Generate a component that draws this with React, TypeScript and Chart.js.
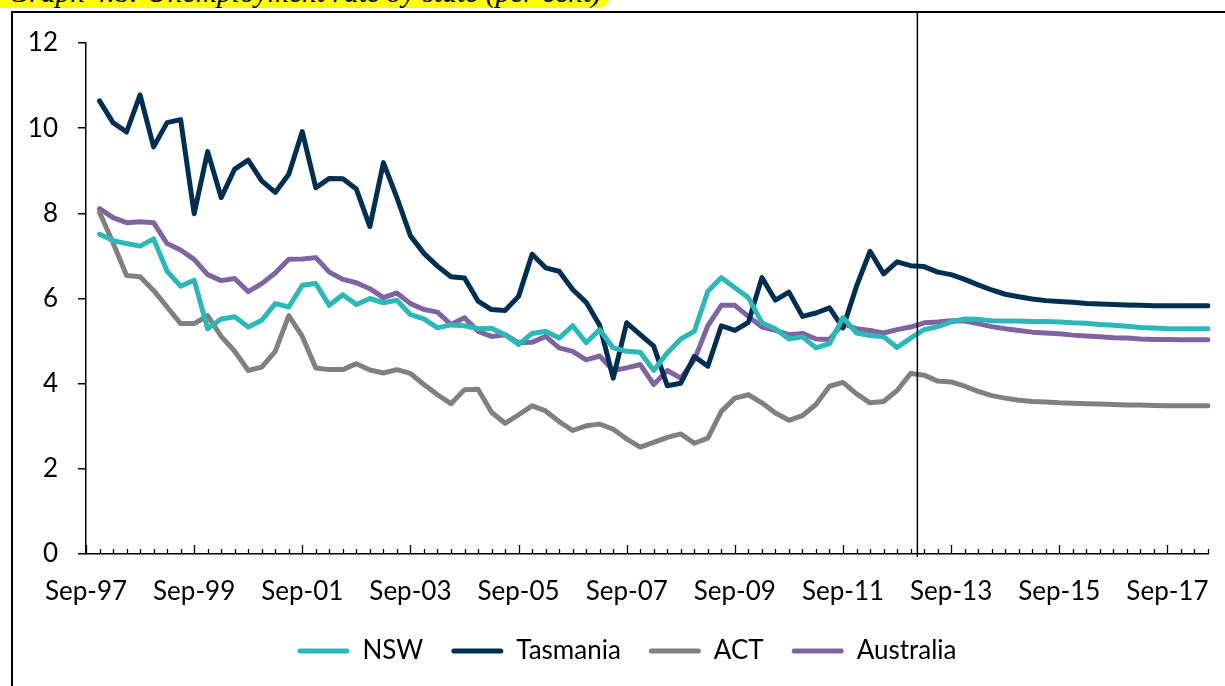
import React, { useEffect, useRef } from "react";
import { Chart, registerables } from "chart.js";

Chart.register(...registerables);

const CATEGORIES = [
  "Sep-97", "Dec-97", "Mar-98", "Jun-98", "Sep-98", "Dec-98", "Mar-99", "Jun-99",
  "Sep-99", "Dec-99", "Mar-00", "Jun-00", "Sep-00", "Dec-00", "Mar-01", "Jun-01",
  "Sep-01", "Dec-01", "Mar-02", "Jun-02", "Sep-02", "Dec-02", "Mar-03", "Jun-03",
  "Sep-03", "Dec-03", "Mar-04", "Jun-04", "Sep-04", "Dec-04", "Mar-05", "Jun-05",
  "Sep-05", "Dec-05", "Mar-06", "Jun-06", "Sep-06", "Dec-06", "Mar-07", "Jun-07",
  "Sep-07", "Dec-07", "Mar-08", "Jun-08", "Sep-08", "Dec-08", "Mar-09", "Jun-09",
  "Sep-09", "Dec-09", "Mar-10", "Jun-10", "Sep-10", "Dec-10", "Mar-11", "Jun-11",
  "Sep-11", "Dec-11", "Mar-12", "Jun-12", "Sep-12", "Dec-12", "Mar-13", "Jun-13",
  "Sep-13", "Dec-13", "Mar-14", "Jun-14", "Sep-14", "Dec-14", "Mar-15", "Jun-15",
  "Sep-15", "Dec-15", "Mar-16", "Jun-16", "Sep-16", "Dec-16", "Mar-17", "Jun-17",
  "Sep-17", "Dec-17", "Mar-18", "Jun-18",
];

const TICK_LABELS = [
  "Sep-97", "Sep-99", "Sep-01", "Sep-03", "Sep-05", "Sep-07",
  "Sep-09", "Sep-11", "Sep-13", "Sep-15", "Sep-17",
];

const Y_TICKS = [0, 2, 4, 6, 8, 10, 12];

// position (in category units) of the vertical forecast divider
const FORECAST_DIVIDER = 61.5;

const NSW = [
  null,
  7.51, 7.36, 7.29, 7.23, 7.4, 6.64, 6.29, 6.43, 5.29, 5.52,
  5.57, 5.33, 5.49, 5.88, 5.8, 6.31, 6.35, 5.84, 6.09, 5.86,
  6.0, 5.9, 5.96, 5.62, 5.52, 5.31, 5.38, 5.36, 5.29, 5.3,
  5.15, 4.92, 5.18, 5.23, 5.07, 5.36, 4.96, 5.27, 4.84, 4.76,
  4.74, 4.31, 4.72, 5.05, 5.23, 6.17, 6.49, 6.25, 6.02, 5.43,
  5.29, 5.05, 5.1, 4.84, 4.94, 5.55, 5.19, 5.13, 5.1, 4.85,
  5.07, 5.27, 5.34, 5.45, 5.52, 5.51, 5.48, 5.47, 5.47, 5.46,
  5.46, 5.45, 5.43, 5.42, 5.39, 5.37, 5.35, 5.32, 5.31, 5.29,
  5.29, 5.29, 5.29,
];

const TASMANIA = [
  null,
  10.64, 10.13, 9.91, 10.78, 9.56, 10.13, 10.2, 7.99, 9.45, 8.37,
  9.04, 9.25, 8.76, 8.49, 8.92, 9.92, 8.6, 8.82, 8.81, 8.57,
  7.69, 9.19, 8.37, 7.47, 7.06, 6.76, 6.51, 6.48, 5.94, 5.74,
  5.72, 6.05, 7.04, 6.72, 6.64, 6.21, 5.91, 5.37, 4.13, 5.43,
  5.15, 4.88, 3.95, 4.01, 4.64, 4.41, 5.36, 5.25, 5.44, 6.49,
  5.96, 6.15, 5.58, 5.66, 5.78, 5.31, 6.29, 7.11, 6.58, 6.86,
  6.77, 6.75, 6.62, 6.56, 6.45, 6.32, 6.2, 6.1, 6.04, 5.99,
  5.95, 5.93, 5.91, 5.88, 5.87, 5.86, 5.85, 5.84, 5.83, 5.83,
  5.83, 5.83, 5.83,
];

const ACT = [
  null,
  8.02, 7.31, 6.54, 6.51, 6.19, 5.8, 5.41, 5.41, 5.6, 5.11,
  4.76, 4.31, 4.39, 4.76, 5.6, 5.11, 4.37, 4.33, 4.33, 4.47,
  4.32, 4.25, 4.33, 4.24, 3.98, 3.74, 3.53, 3.86, 3.87, 3.33,
  3.07, 3.27, 3.48, 3.36, 3.11, 2.9, 3.01, 3.05, 2.93, 2.7,
  2.51, 2.62, 2.74, 2.82, 2.6, 2.72, 3.35, 3.66, 3.74, 3.55,
  3.31, 3.14, 3.25, 3.51, 3.94, 4.03, 3.76, 3.55, 3.58, 3.84,
  4.24, 4.2, 4.06, 4.04, 3.94, 3.82, 3.72, 3.66, 3.61, 3.58,
  3.57, 3.55, 3.54, 3.53, 3.52, 3.51, 3.5, 3.5, 3.49, 3.48,
  3.48, 3.48, 3.48,
];

const AUSTRALIA = [
  null,
  8.11, 7.9, 7.78, 7.8, 7.78, 7.29, 7.14, 6.92, 6.56, 6.42,
  6.47, 6.16, 6.35, 6.6, 6.92, 6.93, 6.96, 6.62, 6.45, 6.37,
  6.23, 6.02, 6.13, 5.88, 5.74, 5.68, 5.39, 5.55, 5.23, 5.11,
  5.15, 4.96, 4.97, 5.11, 4.84, 4.76, 4.56, 4.65, 4.31, 4.37,
  4.45, 3.98, 4.31, 4.13, 4.56, 5.36, 5.84, 5.84, 5.58, 5.33,
  5.25, 5.15, 5.18, 5.05, 5.04, 5.41, 5.29, 5.25, 5.19, 5.27,
  5.33, 5.43, 5.45, 5.48, 5.47, 5.41, 5.34, 5.29, 5.25, 5.21,
  5.19, 5.17, 5.14, 5.12, 5.1, 5.08, 5.07, 5.05, 5.04, 5.04,
  5.03, 5.03, 5.03,
];

const SERIES = [
  { label: "NSW", data: NSW, color: "#2CB8B8" },
  { label: "Tasmania", data: TASMANIA, color: "#002F52" },
  { label: "ACT", data: ACT, color: "#808080" },
  { label: "Australia", data: AUSTRALIA, color: "#8064A2" },
];

const FONT = { family: "Lato, 'Noto Sans', sans-serif", size: 26 };
const LEGEND_SHIFT = 23;

const decorPlugin = {
  id: "decor",
  afterLayout(chart: any) {
    const lg = chart.legend;
    if (lg) {
      lg.left += LEGEND_SHIFT;
      lg.right += LEGEND_SHIFT;
    }
  },
  afterDraw(chart: any) {
    const xs = chart.scales.x;
    const { ctx, chartArea } = chart;
    ctx.save();
    ctx.strokeStyle = "#000";
    ctx.lineWidth = 1.3;
    CATEGORIES.forEach((c, i) => {
      const x = Math.round(xs.getPixelForValue(i)) + 0.5;
      const len = TICK_LABELS.includes(c) ? 9 : 5;
      ctx.beginPath();
      ctx.moveTo(x, chartArea.bottom);
      ctx.lineTo(x, chartArea.bottom - len);
      ctx.stroke();
    });
    // forecast divider
    const dx = xs.getPixelForValue(FORECAST_DIVIDER);
    ctx.lineWidth = 1.5;
    ctx.beginPath();
    ctx.moveTo(dx, 12);
    ctx.lineTo(dx, chartArea.bottom + 3);
    ctx.stroke();
    ctx.restore();
  },
};

export default function App() {
  const ref = useRef<HTMLCanvasElement | null>(null);

  useEffect(() => {
    if (!ref.current) return;
    const chart = new Chart(ref.current, {
      type: "line",
      data: {
        labels: CATEGORIES,
        datasets: SERIES.map((s) => ({
          label: s.label,
          data: s.data,
          borderColor: s.color,
          backgroundColor: s.color,
          borderWidth: 5,
          pointRadius: 0,
          tension: 0,
          borderJoinStyle: "round",
          borderCapStyle: "round",
          fill: false,
        })),
      },
      options: {
        responsive: false,
        animation: false,
        devicePixelRatio: 1,
        layout: { padding: { left: 0, right: 17, top: 43, bottom: 12 } },
        plugins: {
          tooltip: { enabled: false },
          title: { display: false },
          legend: {
            display: true,
            position: "bottom",
            labels: {
              boxWidth: 52,
              boxHeight: 5,
              padding: 28,
              color: "#000",
              font: FONT,
              useBorderRadius: true,
              borderRadius: 2.5,
              generateLabels: () =>
                SERIES.map((s, i) => ({
                  text: s.label,
                  fillStyle: s.color,
                  strokeStyle: s.color,
                  lineWidth: 0,
                  hidden: false,
                  datasetIndex: i,
                  borderRadius: 2.5,
                })),
            },
          },
        },
        scales: {
          x: {
            type: "category",
            offset: false,
            // grid hidden (ticks drawn by plugin); tickLength only offsets labels
            grid: { display: false, drawTicks: true, tickLength: 22 },
            border: { display: true, color: "#000", width: 1.5 },
            ticks: {
              autoSkip: false,
              maxRotation: 0,
              minRotation: 0,
              padding: 0,
              color: "#000",
              font: FONT,
              callback: (_v: any, i: number) =>
                TICK_LABELS.includes(CATEGORIES[i]) ? CATEGORIES[i] : "",
            },
            afterFit: (s: any) => {
              s.height = 56;
            },
          },
          y: {
            min: Y_TICKS[0],
            max: Y_TICKS[Y_TICKS.length - 1],
            grid: {
              drawOnChartArea: false,
              drawTicks: true,
              tickLength: 8,
              color: "#000",
              lineWidth: 1.5,
            },
            border: { display: true, color: "#000", width: 1.5 },
            ticks: {
              stepSize: 2,
              padding: 20,
              color: "#000",
              font: FONT,
            },
            afterFit: (s: any) => {
              s.width = 86;
            },
          },
        },
      },
      plugins: [decorPlugin],
    });
    return () => chart.destroy();
  }, []);

  return (
    <div
      style={{
        position: "absolute",
        left: 0,
        top: 0,
        width: 1225,
        height: 686,
        overflow: "hidden",
        background: "#fff",
      }}
    >
      <div
        style={{
          position: "absolute",
          left: 0,
          top: -22,
          whiteSpace: "nowrap",
          fontFamily: "'Liberation Serif', 'Times New Roman', serif",
          fontStyle: "italic",
          fontSize: 29.5,
          lineHeight: "29.5px",
        }}
      >
        <span
          style={{
            background: "#FFFF00",
            padding: "0 8px 0 8px",
            borderBottomRightRadius: 10,
          }}
        >
          Graph 4.8: Unemployment rate by state (per cent)
        </span>
      </div>
      <div
        style={{
          position: "absolute",
          left: 11,
          top: 11,
          width: 1400,
          height: 900,
          borderLeft: "2px solid #000",
          borderTop: "2px solid #000",
        }}
      />
      <canvas
        ref={ref}
        width={1225}
        height={686}
        style={{ position: "absolute", left: 0, top: 0, width: 1225, height: 686 }}
      />
    </div>
  );
}
